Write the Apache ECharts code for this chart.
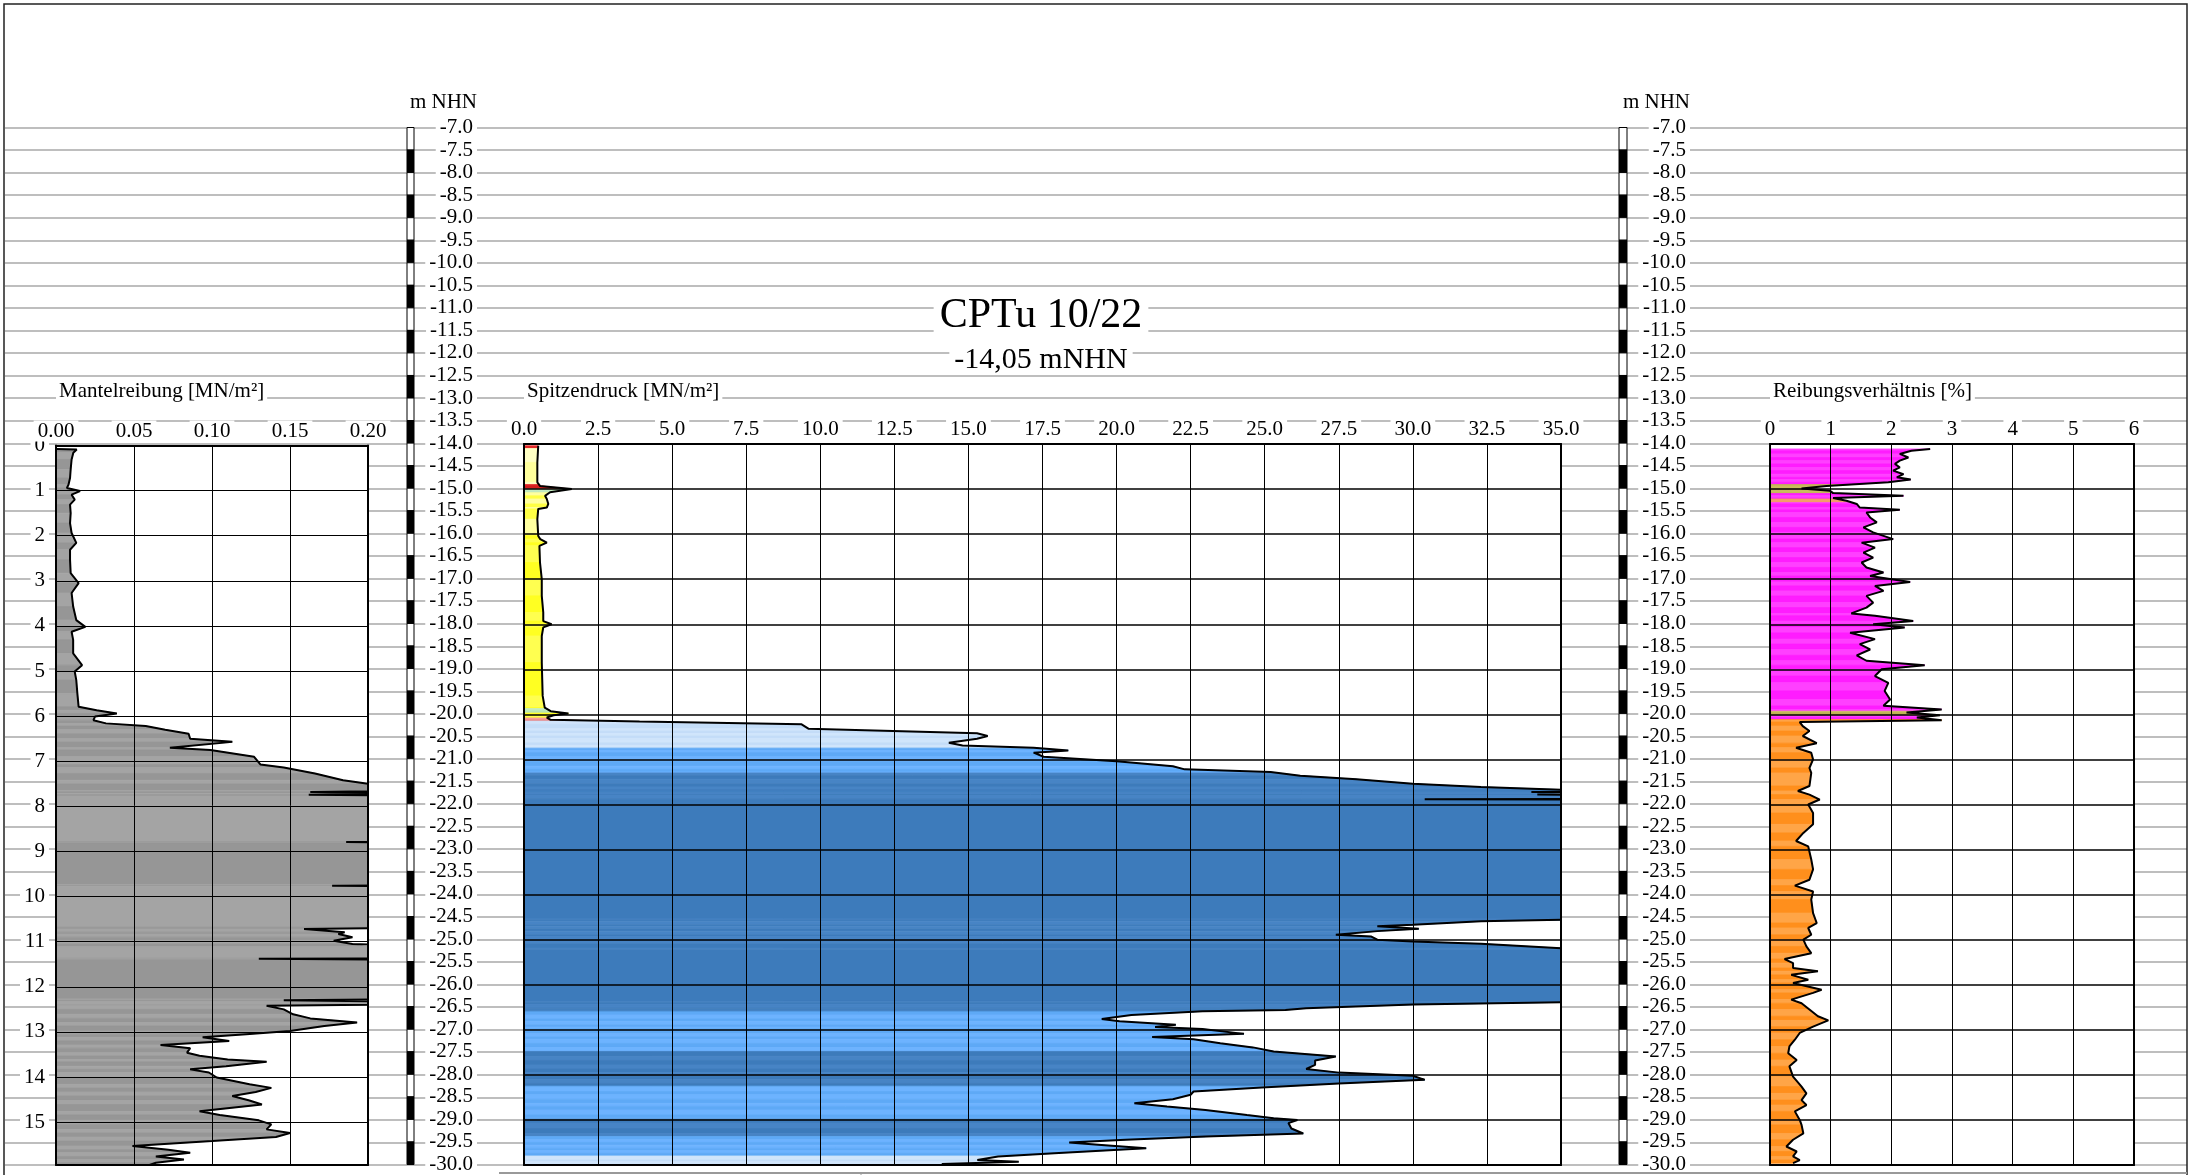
<!DOCTYPE html>
<html><head><meta charset="utf-8">
<script src="https://cdn.jsdelivr.net/npm/echarts@6/dist/echarts.min.js"></script>
<style>html,body{margin:0;padding:0;background:#fff}#c{width:2190px;height:1175px}</style>
</head><body><div id="c"></div>
<script>
// ---------------- DATA ----------------
const titleText = 'CPTu 10/22';
const subtitleText = '-14,05 mNHN';
const nhnUnit = 'm NHN';
const panelTitles = ['Mantelreibung [MN/m²]', 'Spitzendruck [MN/m²]', 'Reibungsverhältnis [%]'];
const nhnRange = [-30, -7];          // elevation scale [m NHN]
const nhnStep = 0.5;
const plotNhnRange = [-30, -14];
const depthRange = [0, 15.95];      // depth below ground [m]
const mrAxis = [0, 0.2, 0.05];
const qcAxis = [0, 35, 2.5];
const rfAxis = [0, 6, 1];

// Mantelreibung: [depth m, fs MN/m²]
const mrProfile = [
 [0.08,0.0],[0.09,0.0133],[0.16,0.0111],[0.31,0.0100],[0.53,0.0094],[0.72,0.0090],[0.87,0.0080],[0.94,0.0070],
 [1.01,0.0154],[1.09,0.0100],[1.20,0.0120],[1.31,0.0090],[1.50,0.0094],[1.72,0.0090],[1.94,0.0100],[2.16,0.0130],
 [2.31,0.0090],[2.53,0.0090],[2.83,0.0094],[3.05,0.0145],[3.27,0.0100],[3.57,0.0110],[3.87,0.0130],[4.02,0.0188],
 [4.13,0.0100],[4.31,0.0110],[4.61,0.0110],[4.87,0.0167],[5.01,0.0120],[5.20,0.0130],[5.50,0.0137],[5.79,0.0145],
 [5.87,0.026],[5.94,0.039],[6.01,0.025],[6.09,0.024],[6.16,0.032],[6.22,0.0575],[6.30,0.070],[6.39,0.085],
 [6.50,0.086],[6.57,0.113],[6.70,0.073],[6.75,0.099],[6.90,0.127],[7.07,0.131],[7.14,0.146],[7.27,0.166],
 [7.42,0.184],[7.50,0.200],[7.65,0.24],[7.68,0.163],[7.71,0.24],[7.74,0.162],[7.77,0.24],[8.78,0.24],
 [8.79,0.186],[8.81,0.24],[9.74,0.24],[9.76,0.177],[9.77,0.24],[10.68,0.24],[10.72,0.159],[10.79,0.185],
 [10.83,0.181],[10.90,0.190],[10.98,0.178],[11.05,0.190],[11.11,0.24],[11.37,0.24],[11.38,0.130],[11.40,0.24],
 [12.27,0.24],[12.30,0.146],[12.33,0.24],[12.40,0.20],[12.42,0.135],[12.50,0.146],[12.61,0.152],[12.70,0.163],
 [12.79,0.193],[12.87,0.172],[12.98,0.150],[13.05,0.122],[13.12,0.094],[13.20,0.111],[13.29,0.067],[13.36,0.086],
 [13.46,0.084],[13.53,0.092],[13.61,0.110],[13.66,0.135],[13.76,0.109],[13.83,0.086],[13.90,0.098],[14.01,0.103],
 [14.16,0.124],[14.24,0.138],[14.33,0.128],[14.42,0.113],[14.52,0.124],[14.61,0.132],[14.76,0.092],[14.84,0.105],
 [14.96,0.130],[15.05,0.138],[15.16,0.135],[15.24,0.150],[15.33,0.141],[15.42,0.100],[15.53,0.049],[15.61,0.072],
 [15.68,0.086],[15.76,0.064],[15.83,0.082],[15.90,0.064],[15.95,0.060]
];

// Spitzendruck: [m NHN, qc MN/m²]
const qcProfile = [
 [-14.04,0.48],[-14.41,0.45],[-14.85,0.45],[-14.93,0.54],[-15.0,1.61],[-15.07,0.88],[-15.15,0.71],[-15.22,0.77],
 [-15.33,0.82],[-15.41,0.77],[-15.44,0.48],[-15.67,0.45],[-16.04,0.48],[-16.11,0.55],[-16.19,0.77],[-16.26,0.52],
 [-16.63,0.54],[-17.0,0.60],[-17.37,0.60],[-17.74,0.65],[-17.93,0.65],[-18.0,0.93],[-18.07,0.65],[-18.26,0.60],
 [-18.85,0.60],[-19.59,0.63],[-19.85,0.70],[-19.93,0.90],[-19.98,1.50],[-20.02,1.00],[-20.07,0.77],[-20.12,0.90],
 [-20.16,3.90],[-20.22,9.37],[-20.32,9.61],[-20.37,12.45],[-20.42,15.29],[-20.48,15.65],[-20.54,15.29],[-20.63,14.34],
 [-20.69,14.8],[-20.74,17.2],[-20.80,18.37],[-20.85,17.2],[-20.94,17.54],[-21.04,20.0],[-21.15,21.9],[-21.22,22.3],
 [-21.28,25.2],[-21.36,26.2],[-21.44,28.1],[-21.54,30.0],[-21.61,32.3],[-21.67,35.0],[-21.70,40],[-21.72,34.0],
 [-21.74,40],[-21.78,34.2],[-21.80,40],[-21.875,40],[-21.885,30.4],[-21.895,40],[-24.54,40],[-24.56,35.0],
 [-24.59,32.3],[-24.67,30.0],[-24.70,28.8],[-24.76,30.2],[-24.81,28.8],[-24.89,27.4],[-24.93,28.6],[-25.0,28.8],
 [-25.04,30.0],[-25.09,32.3],[-25.19,35.0],[-25.21,40],[-26.37,40],[-26.39,35.0],[-26.44,30.0],[-26.52,26.4],
 [-26.56,25.7],[-26.59,22.9],[-26.67,20.5],[-26.76,19.5],[-26.81,20.1],[-26.89,22.0],[-26.94,21.3],[-26.98,22.9],
 [-27.09,24.3],[-27.16,21.2],[-27.21,22.6],[-27.30,23.5],[-27.39,24.6],[-27.48,25.3],[-27.59,27.4],[-27.68,26.7],
 [-27.78,26.7],[-27.87,26.4],[-27.95,27.5],[-28.02,30.0],[-28.11,30.4],[-28.19,27.5],[-28.28,24.9],[-28.37,22.6],
 [-28.44,22.5],[-28.54,21.9],[-28.63,20.6],[-28.70,21.7],[-28.78,23.0],[-28.89,24.4],[-28.96,25.3],[-29.0,26.1],
 [-29.07,25.8],[-29.19,25.9],[-29.30,26.3],[-29.37,23.0],[-29.44,20.3],[-29.50,18.4],[-29.56,19.6],[-29.63,21.0],
 [-29.68,19.6],[-29.74,17.9],[-29.81,16.0],[-29.89,15.3],[-29.93,16.7],[-29.98,14.1]
];

// Reibungsverhältnis: [m NHN, Rf %]
const rfProfile = [
 [-14.11,2.64],[-14.15,2.33],[-14.22,2.14],[-14.30,2.28],[-14.37,2.14],[-14.44,2.06],[-14.52,2.14],[-14.59,2.03],
 [-14.67,2.20],[-14.74,2.09],[-14.79,2.32],[-14.85,1.95],[-14.93,0.93],[-14.99,0.52],[-15.04,0.99],[-15.09,1.04],
 [-15.15,2.20],[-15.20,1.04],[-15.26,1.26],[-15.33,1.43],[-15.41,1.48],[-15.46,2.14],[-15.52,1.59],[-15.63,1.65],
 [-15.74,1.76],[-15.85,1.54],[-15.96,1.70],[-16.11,2.03],[-16.19,1.51],[-16.30,1.73],[-16.41,1.54],[-16.52,1.70],
 [-16.63,1.51],[-16.74,1.59],[-16.85,1.87],[-16.93,1.65],[-17.06,2.31],[-17.15,1.73],[-17.26,1.87],[-17.37,1.59],
 [-17.52,1.70],[-17.63,1.59],[-17.76,1.34],[-17.81,1.73],[-17.93,2.36],[-18.0,1.70],[-18.07,2.22],[-18.19,1.32],
 [-18.33,1.73],[-18.44,1.48],[-18.56,1.65],[-18.69,1.43],[-18.81,1.59],[-18.91,2.55],[-19.0,1.84],[-19.15,1.73],
 [-19.30,1.95],[-19.48,1.89],[-19.67,1.98],[-19.81,1.87],[-19.89,2.83],[-19.96,2.25],[-20.02,2.80],[-20.07,2.42],
 [-20.13,2.83],[-20.17,0.49],[-20.26,0.54],[-20.37,0.65],[-20.48,0.54],[-20.64,0.77],[-20.74,0.43],[-20.85,0.68],
 [-21.0,0.71],[-21.19,0.65],[-21.30,0.68],[-21.59,0.65],[-21.70,0.46],[-21.78,0.65],[-21.89,0.82],[-22.0,0.63],
 [-22.04,0.63],[-22.19,0.71],[-22.44,0.71],[-22.63,0.55],[-22.81,0.43],[-22.93,0.63],[-23.22,0.68],[-23.44,0.71],
 [-23.67,0.65],[-23.80,0.41],[-23.93,0.71],[-24.11,0.68],[-24.41,0.71],[-24.63,0.77],[-24.74,0.63],[-24.89,0.68],
 [-25.0,0.55],[-25.15,0.60],[-25.30,0.68],[-25.43,0.24],[-25.52,0.38],[-25.63,0.38],[-25.70,0.79],[-25.78,0.35],
 [-25.89,0.63],[-25.96,0.38],[-26.11,0.85],[-26.18,0.71],[-26.33,0.35],[-26.41,0.52],[-26.55,0.65],[-26.70,0.79],
 [-26.79,0.96],[-26.93,0.71],[-27.07,0.49],[-27.22,0.41],[-27.37,0.32],[-27.52,0.30],[-27.67,0.44],[-27.81,0.32],
 [-28.04,0.38],[-28.26,0.52],[-28.41,0.60],[-28.56,0.52],[-28.67,0.60],[-28.81,0.41],[-29.0,0.49],[-29.11,0.52],
 [-29.30,0.55],[-29.44,0.38],[-29.59,0.27],[-29.70,0.44],[-29.81,0.38],[-29.89,0.49],[-29.96,0.38]
];

// Soil classification layers (m NHN)
const qcLayerTop    = [-14.0,-14.1,-14.9,-15.0,-15.08,-16.0,-19.87,-19.97,-20.08,-20.15,-20.75,-21.3,-26.6,-27.48,-28.25,-28.98,-29.37,-29.8];
const qcLayerBottom = [-14.1,-14.9,-15.0,-15.08,-16.0,-19.87,-19.97,-20.08,-20.15,-20.75,-21.3,-26.6,-27.48,-28.25,-28.98,-29.37,-29.8,-30.0];
const qcLayerClass  = ['R','P','R','G','Q','Y','G','Y','K','L','M','D','M','D','M','D','M','L'];
const rfLayerTop    = [-14.0,-14.9,-15.1,-15.22,-15.3,-19.93,-20.03,-20.12];
const rfLayerBottom = [-14.9,-15.1,-15.22,-15.3,-19.93,-20.03,-20.12,-30.0];
const rfLayerClass  = ['V','O','V','S','V','O','V','A'];

// ---------------- STYLE ----------------
const FF = '"Liberation Serif","Times New Roman","DejaVu Serif",serif';
const palette = {
  R:['#e32a2a','#d41f1f'], P:['#ffffc4','#ffff9c'], G:['#c4ecc0','#b6e4b2'], Q:['#ffff44','#ffffa0'],
  Y:['#ffff22','#ffff50'], K:['#f4a0a0','#ee8484'], L:['#d0e5fb','#c4ddf8'], M:['#6db3ff','#5ea9f6'],
  D:['#4784c5','#3d7bbb'], V:['#ff40ff','#ff1cff'], O:['#cbbd5e','#c0b253'], S:['#f49a6a','#f49a6a'],
  A:['#ffa547','#ff8f1c'], X:['#a4a4a4','#969696']
};

function makeBands(tops, bottoms, cls) {
  const edges = tops.concat(bottoms);
  return {
    edges,
    lookup: y => { for (let k = 0; k < tops.length; k++) if (y <= tops[k] && y >= bottoms[k]) return cls[k]; return cls[cls.length-1]; }
  };
}
const qcBands = makeBands(qcLayerTop, qcLayerBottom, qcLayerClass);
const rfBands = makeBands(rfLayerTop, rfLayerBottom, rfLayerClass);

function fillRenderer(profile, xmax, bands) {
  return function (params, api) {
    const i = params.dataIndex;
    const y1 = profile[i][0], y2 = profile[i+1][0];
    const v1 = Math.min(profile[i][1], xmax), v2 = Math.min(profile[i+1][1], xmax);
    const cuts = [y1];
    if (bands) bands.edges.forEach(e => { if ((e - y1) * (e - y2) < 0 && cuts.indexOf(e) < 0) cuts.push(e); });
    cuts.push(y2);
    const dir = y2 > y1 ? 1 : -1;
    cuts.sort((a, b) => dir * (a - b));
    const vAt = y => (y2 === y1 ? v1 : v1 + (v2 - v1) * (y - y1) / (y2 - y1));
    const children = [];
    for (let k = 0; k < cuts.length - 1; k++) {
      const ya = cuts[k], yb = cuts[k+1];
      const cls = bands ? bands.lookup((ya + yb) / 2) : 'X';
      const col = palette[cls][i % 2];
      children.push({
        type: 'polygon',
        shape: { points: [api.coord([0, ya]), api.coord([vAt(ya), ya]), api.coord([vAt(yb), yb]), api.coord([0, yb])] },
        style: { fill: col, stroke: col, lineWidth: 0.8 }
      });
    }
    return { type: 'group', children };
  };
}

function scaleBarRenderer(params, api) {
  const k = params.dataIndex;
  const top = nhnRange[1] - k * nhnStep, bot = top - nhnStep;
  const p1 = api.coord([0, top]), p2 = api.coord([1, bot]);
  return { type: 'rect', shape: { x: p1[0], y: p1[1], width: p2[0] - p1[0], height: p2[1] - p1[1] },
           style: { fill: k % 2 ? '#000' : '#fff', stroke: '#000', lineWidth: 1 } };
}
const barSegments = [];
for (let k = 0; k < Math.round((nhnRange[1] - nhnRange[0]) / nhnStep); k++) barSegments.push([0.5, nhnRange[1] - k * nhnStep]);

const lbl = (fmt, margin, extra) => Object.assign({
  show: true, formatter: fmt, margin, fontFamily: FF, fontSize: 21, color: '#000',
  backgroundColor: '#fff', padding: [0, 4]
}, extra || {});
const frameLine = { show: true, onZero: false, lineStyle: { color: '#000', width: 2 } };
const blackSplit = w => ({ show: true, lineStyle: { color: '#000', width: w } });

function topX(grid, rng, fmt) {
  return { gridIndex: grid, type: 'value', position: 'top', min: rng[0], max: rng[1], interval: rng[2], z: 3,
    axisLine: frameLine, axisTick: { show: false }, axisLabel: lbl(fmt, 4), splitLine: blackSplit(1) };
}
function bottomX(grid, rng) {
  return { gridIndex: grid, type: 'value', position: 'bottom', min: rng[0], max: rng[1], z: 3,
    axisLine: frameLine, axisTick: { show: false }, axisLabel: { show: false }, splitLine: { show: false } };
}
function hiddenX(grid) { return { gridIndex: grid, type: 'value', min: 0, max: 1, show: false }; }

const chart = echarts.init(document.getElementById('c'), null, { renderer: 'canvas' });
chart.setOption({
  animation: false,
  backgroundColor: '#fff',
  grid: [
    { left: 5, top: 127.5, width: 2182, height: 1037.5, show: false },
    { left: 407, top: 127.5, width: 7, height: 1037.5, show: false },
    { left: 1619, top: 127.5, width: 8, height: 1037.5, show: false },
    { left: 56, top: 445.5, width: 312, height: 719.5, show: true, backgroundColor: '#fff', borderWidth: 0, z: 1 },
    { left: 524, top: 444, width: 1037, height: 721, show: true, backgroundColor: '#fff', borderWidth: 0, z: 1 },
    { left: 1770, top: 444, width: 364, height: 721, show: true, backgroundColor: '#fff', borderWidth: 0, z: 1 }
  ],
  xAxis: [
    hiddenX(0), hiddenX(1), hiddenX(2),
    topX(3, mrAxis, v => v.toFixed(2)), bottomX(3, mrAxis),
    topX(4, qcAxis, v => v.toFixed(1)), bottomX(4, qcAxis),
    topX(5, rfAxis, v => String(Math.round(v))), bottomX(5, rfAxis)
  ],
  yAxis: [
    { gridIndex: 0, type: 'value', min: nhnRange[0], max: nhnRange[1], interval: nhnStep, z: 0,
      axisLine: { show: false }, axisTick: { show: false }, axisLabel: { show: false },
      splitLine: { show: true, lineStyle: { color: '#a9a9a9', width: 1.5 } } },
    { gridIndex: 1, type: 'value', position: 'right', min: nhnRange[0], max: nhnRange[1], interval: nhnStep, z: 3,
      axisLine: { show: false }, axisTick: { show: false }, splitLine: { show: false },
      axisLabel: lbl(v => v.toFixed(1), 63, { align: 'right' }) },
    { gridIndex: 2, type: 'value', position: 'right', min: nhnRange[0], max: nhnRange[1], interval: nhnStep, z: 3,
      axisLine: { show: false }, axisTick: { show: false }, splitLine: { show: false },
      axisLabel: lbl(v => v.toFixed(1), 63, { align: 'right' }) },
    { gridIndex: 3, type: 'value', position: 'left', inverse: true, min: depthRange[0], max: depthRange[1], interval: 1, z: 3,
      axisLine: frameLine, axisTick: { show: false }, splitLine: blackSplit(1.2),
      axisLabel: lbl(v => String(Math.round(v)), 7, { showMaxLabel: false }) },
    { gridIndex: 3, type: 'value', position: 'right', inverse: true, min: depthRange[0], max: depthRange[1], z: 3,
      axisLine: frameLine, axisTick: { show: false }, axisLabel: { show: false }, splitLine: { show: false } },
    { gridIndex: 4, type: 'value', position: 'left', min: plotNhnRange[0], max: plotNhnRange[1], interval: 1, z: 3,
      axisLine: frameLine, axisTick: { show: false }, axisLabel: { show: false }, splitLine: blackSplit(1.5) },
    { gridIndex: 4, type: 'value', position: 'right', min: plotNhnRange[0], max: plotNhnRange[1], z: 3,
      axisLine: frameLine, axisTick: { show: false }, axisLabel: { show: false }, splitLine: { show: false } },
    { gridIndex: 5, type: 'value', position: 'left', min: plotNhnRange[0], max: plotNhnRange[1], interval: 1, z: 3,
      axisLine: frameLine, axisTick: { show: false }, axisLabel: { show: false }, splitLine: blackSplit(1.5) },
    { gridIndex: 5, type: 'value', position: 'right', min: plotNhnRange[0], max: plotNhnRange[1], z: 3,
      axisLine: frameLine, axisTick: { show: false }, axisLabel: { show: false }, splitLine: { show: false } }
  ],
  series: [
    { type: 'custom', xAxisIndex: 1, yAxisIndex: 1, data: barSegments, renderItem: scaleBarRenderer, z: 3, silent: true },
    { type: 'custom', xAxisIndex: 2, yAxisIndex: 2, data: barSegments, renderItem: scaleBarRenderer, z: 3, silent: true },
    { type: 'custom', xAxisIndex: 3, yAxisIndex: 3, data: mrProfile.slice(0, -1).map(p => [p[1], p[0]]),
      renderItem: fillRenderer(mrProfile, mrAxis[1], null), z: 2, silent: true },
    { type: 'line', xAxisIndex: 3, yAxisIndex: 3, data: mrProfile.map(p => [p[1], p[0]]), symbol: 'none', clip: true,
      lineStyle: { color: '#000', width: 2 }, z: 4, silent: true },
    { type: 'custom', xAxisIndex: 5, yAxisIndex: 5, data: qcProfile.slice(0, -1).map(p => [p[1], p[0]]),
      renderItem: fillRenderer(qcProfile, qcAxis[1], qcBands), z: 2, silent: true },
    { type: 'line', xAxisIndex: 5, yAxisIndex: 5, data: qcProfile.map(p => [p[1], p[0]]), symbol: 'none', clip: true,
      lineStyle: { color: '#000', width: 2 }, z: 4, silent: true },
    { type: 'custom', xAxisIndex: 7, yAxisIndex: 7, data: rfProfile.slice(0, -1).map(p => [p[1], p[0]]),
      renderItem: fillRenderer(rfProfile, rfAxis[1], rfBands), z: 2, silent: true },
    { type: 'line', xAxisIndex: 7, yAxisIndex: 7, data: rfProfile.map(p => [p[1], p[0]]), symbol: 'none', clip: true,
      lineStyle: { color: '#000', width: 2 }, z: 4, silent: true }
  ],
  graphic: [
    { type: 'text', z: 10, x: 1041, y: 316, style: { text: titleText, font: '42px ' + FF, fill: '#000',
      align: 'center', verticalAlign: 'middle', textAlign: 'center', textVerticalAlign: 'middle', backgroundColor: '#fff', padding: [0, 6] } },
    { type: 'text', z: 10, x: 1041, y: 360, style: { text: subtitleText, font: '30px ' + FF, fill: '#000', lineHeight: 27,
      align: 'center', verticalAlign: 'middle', textAlign: 'center', textVerticalAlign: 'middle', backgroundColor: '#fff', padding: [0, 5] } },
    { type: 'text', z: 10, x: 56, y: 391.5, style: { text: panelTitles[0], font: '21px ' + FF, fill: '#000',
      align: 'left', verticalAlign: 'middle', textAlign: 'left', textVerticalAlign: 'middle', backgroundColor: '#fff', padding: [0, 3] } },
    { type: 'text', z: 10, x: 524, y: 391.5, style: { text: panelTitles[1], font: '21px ' + FF, fill: '#000',
      align: 'left', verticalAlign: 'middle', textAlign: 'left', textVerticalAlign: 'middle', backgroundColor: '#fff', padding: [0, 3] } },
    { type: 'text', z: 10, x: 1770, y: 391.5, style: { text: panelTitles[2], font: '21px ' + FF, fill: '#000',
      align: 'left', verticalAlign: 'middle', textAlign: 'left', textVerticalAlign: 'middle', backgroundColor: '#fff', padding: [0, 3] } },
    { type: 'text', z: 10, x: 477, y: 102, style: { text: nhnUnit, font: '21px ' + FF, fill: '#000',
      align: 'right', verticalAlign: 'middle', textAlign: 'right', textVerticalAlign: 'middle' } },
    { type: 'text', z: 10, x: 1690, y: 102, style: { text: nhnUnit, font: '21px ' + FF, fill: '#000',
      align: 'right', verticalAlign: 'middle', textAlign: 'right', textVerticalAlign: 'middle' } },
    { type: 'rect', z: 10, shape: { x: 4, y: 4, width: 2183, height: 1190 }, style: { fill: 'none', stroke: '#222', lineWidth: 1.5 } },
    { type: 'line', z: 10, shape: { x1: 499, y1: 1173, x2: 2187, y2: 1173 }, style: { stroke: '#999', lineWidth: 2 } },
    { type: 'line', z: 10, shape: { x1: 861, y1: 1173, x2: 861, y2: 1176 }, style: { stroke: '#999', lineWidth: 1 } }
  ]
});
</script></body></html>
